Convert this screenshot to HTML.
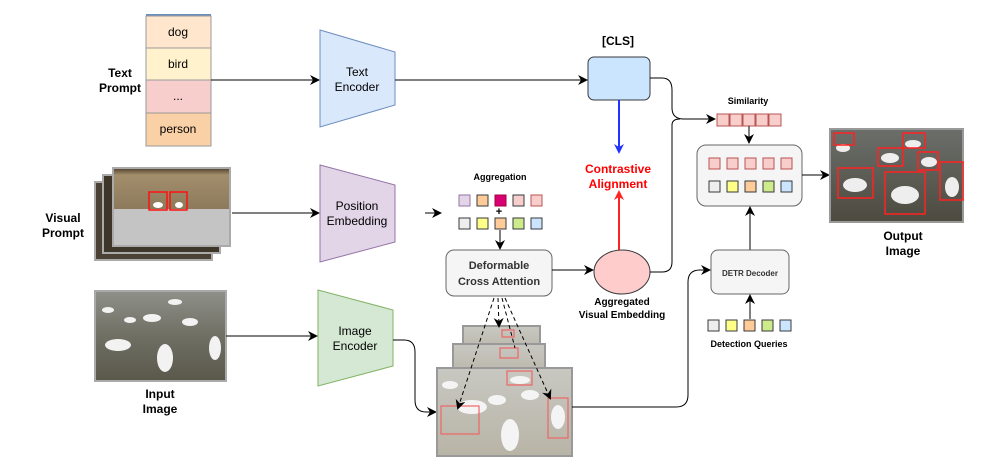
<!DOCTYPE html>
<html><head><meta charset="utf-8"><style>
html,body{margin:0;padding:0;background:#fff}
svg{display:block}
text{font-family:"Liberation Sans",sans-serif}
</style></head><body>
<svg width="996" height="476" viewBox="0 0 996 476" xmlns="http://www.w3.org/2000/svg">
<defs>
<marker id="ah" markerWidth="10" markerHeight="10" refX="8" refY="5" orient="auto" markerUnits="userSpaceOnUse"><path d="M0,0 L10,5 L0,10 L3,5 z" fill="#000"/></marker>
<marker id="ahb" markerWidth="10" markerHeight="10" refX="8" refY="5" orient="auto" markerUnits="userSpaceOnUse"><path d="M0,0 L10,5 L0,10 L3,5 z" fill="#2233ff"/></marker>
<marker id="ahr" markerWidth="10" markerHeight="10" refX="8" refY="5" orient="auto" markerUnits="userSpaceOnUse"><path d="M0,0 L10,5 L0,10 L3,5 z" fill="#ff2222"/></marker>
<linearGradient id="lake" x1="0" y1="0" x2="0" y2="1"><stop offset="0" stop-color="#8f9089"/><stop offset="0.5" stop-color="#6f6f64"/><stop offset="1" stop-color="#5a584b"/></linearGradient>
<linearGradient id="lakel" x1="0" y1="0" x2="0" y2="1"><stop offset="0" stop-color="#c8c8c2"/><stop offset="1" stop-color="#b8b4a6"/></linearGradient>
<linearGradient id="reed" x1="0" y1="0" x2="0" y2="1"><stop offset="0" stop-color="#5a4a34"/><stop offset="0.15" stop-color="#a38e6c"/><stop offset="1" stop-color="#8c7a5c"/></linearGradient>
<linearGradient id="out" x1="0" y1="0" x2="0" y2="1"><stop offset="0" stop-color="#6b6e6a"/><stop offset="1" stop-color="#4d4b40"/></linearGradient>
</defs>

<!-- Text prompt -->
<text x="120" y="77" font-size="12" font-weight="bold" text-anchor="middle">Text</text>
<text x="120" y="92" font-size="12" font-weight="bold" text-anchor="middle">Prompt</text>
<line x1="146" y1="15" x2="211" y2="15" stroke="#6c8ebf" stroke-width="2"/>
<rect x="146" y="16" width="65" height="32" fill="#ffe6cc" stroke="#999"/>
<rect x="146" y="48" width="65" height="32" fill="#fff2cc" stroke="#999"/>
<rect x="146" y="80" width="65" height="33" fill="#f8cecc" stroke="#999"/>
<rect x="146" y="113" width="65" height="33" fill="#fad0a6" stroke="#999"/>
<text x="178" y="36" font-size="12" text-anchor="middle">dog</text>
<text x="178" y="68" font-size="12" text-anchor="middle">bird</text>
<text x="178" y="100" font-size="12" text-anchor="middle">...</text>
<text x="178" y="133" font-size="12" text-anchor="middle">person</text>
<line x1="211" y1="80" x2="318" y2="80" stroke="#000" marker-end="url(#ah)"/>

<!-- Text encoder -->
<path d="M320,30 L395,52 L395,105 L320,127 Z" fill="#dae8fc" stroke="#6c8ebf"/>
<text x="357" y="76" font-size="12" text-anchor="middle">Text</text>
<text x="357" y="91" font-size="12" text-anchor="middle">Encoder</text>
<line x1="395" y1="80" x2="586" y2="80" stroke="#000" marker-end="url(#ah)"/>

<!-- CLS -->
<text x="618" y="45" font-size="12" font-weight="bold" text-anchor="middle">[CLS]</text>
<rect x="588" y="57" width="62" height="43" rx="6" fill="#cce5ff" stroke="#36393d"/>
<line x1="619" y1="100" x2="619" y2="152" stroke="#2233ff" stroke-width="2" marker-end="url(#ahb)"/>
<text x="618" y="173" font-size="12" font-weight="bold" fill="#ff0000" text-anchor="middle">Contrastive</text>
<text x="618" y="188" font-size="12" font-weight="bold" fill="#ff0000" text-anchor="middle">Alignment</text>
<line x1="619" y1="250" x2="619" y2="192" stroke="#ff2222" stroke-width="2" marker-end="url(#ahr)"/>
<ellipse cx="622" cy="272" rx="28" ry="22" fill="#ffcccc" stroke="#36393d"/>
<text x="622" y="305" font-size="10" font-weight="bold" text-anchor="middle">Aggregated</text>
<text x="622" y="318" font-size="10" font-weight="bold" text-anchor="middle">Visual Embedding</text>

<path d="M650,78 L662,78 Q672,78 672,90 L672,108 Q672,119 684,119 L714,119" fill="none" stroke="#000" marker-end="url(#ah)"/>
<path d="M650,272 L662,272 Q672,272 672,262 L672,125 Q672,119 680,119" fill="none" stroke="#000"/>

<!-- Similarity -->
<text x="748" y="104" font-size="9" font-weight="bold" text-anchor="middle">Similarity</text>
<g fill="#f8cecc" stroke="#b85450">
<rect x="717" y="114" width="12" height="12"/><rect x="730" y="114" width="12" height="12"/><rect x="743" y="114" width="12" height="12"/><rect x="756" y="114" width="12" height="12"/><rect x="769" y="114" width="12" height="12"/>
</g>
<line x1="749" y1="126" x2="749" y2="142" stroke="#000" marker-end="url(#ah)"/>
<rect x="697" y="145" width="105" height="61" rx="9" fill="#f5f5f5" stroke="#666"/>
<g fill="#f8cecc" stroke="#b85450">
<rect x="709" y="158" width="11" height="11"/><rect x="727" y="158" width="11" height="11"/><rect x="745" y="158" width="11" height="11"/><rect x="763" y="158" width="11" height="11"/><rect x="781" y="158" width="11" height="11"/>
</g>
<g stroke="#36393d">
<rect x="709" y="181" width="11" height="11" fill="#eeeeee"/><rect x="727" y="181" width="11" height="11" fill="#ffff88"/><rect x="745" y="181" width="11" height="11" fill="#ffcc99"/><rect x="763" y="181" width="11" height="11" fill="#cdeb8b"/><rect x="781" y="181" width="11" height="11" fill="#cce5ff"/>
</g>
<line x1="802" y1="175" x2="828" y2="175" stroke="#000" marker-end="url(#ah)"/>

<!-- Output image -->
<rect x="830" y="129" width="133" height="93" fill="url(#out)" stroke="#999" stroke-width="2"/>
<g fill="#eee">
<ellipse cx="843" cy="148" rx="7" ry="4"/><ellipse cx="890" cy="158" rx="9" ry="5"/><ellipse cx="913" cy="144" rx="8" ry="4"/><ellipse cx="929" cy="162" rx="8" ry="5"/><ellipse cx="855" cy="185" rx="12" ry="7"/><ellipse cx="905" cy="195" rx="14" ry="9"/><ellipse cx="952" cy="187" rx="7" ry="10"/>
</g>
<g fill="none" stroke="#ff2222" stroke-width="1.5">
<rect x="834" y="133" width="20" height="12"/><rect x="878" y="148" width="25" height="18"/><rect x="903" y="133" width="22" height="15"/><rect x="918" y="152" width="20" height="18"/><rect x="838" y="168" width="35" height="30"/><rect x="885" y="172" width="40" height="42"/><rect x="940" y="162" width="23" height="38"/>
</g>
<text x="903" y="240" font-size="12" font-weight="bold" text-anchor="middle">Output</text>
<text x="903" y="255" font-size="12" font-weight="bold" text-anchor="middle">Image</text>

<!-- DETR -->
<line x1="750" y1="250" x2="750" y2="208" stroke="#000" marker-end="url(#ah)"/>
<rect x="711" y="250" width="78" height="44" rx="7" fill="#f5f5f5" stroke="#666"/>
<text x="750" y="276" font-size="8" font-weight="bold" fill="#333" text-anchor="middle">DETR Decoder</text>
<line x1="750" y1="319" x2="750" y2="296" stroke="#000" marker-end="url(#ah)"/>
<g stroke="#36393d">
<rect x="708" y="320" width="11" height="11" fill="#eeeeee"/><rect x="726" y="320" width="11" height="11" fill="#ffff88"/><rect x="744" y="320" width="11" height="11" fill="#ffcc99"/><rect x="762" y="320" width="11" height="11" fill="#cdeb8b"/><rect x="780" y="320" width="11" height="11" fill="#cce5ff"/>
</g>
<text x="749" y="347" font-size="9" font-weight="bold" text-anchor="middle">Detection Queries</text>

<!-- Visual prompt -->
<text x="63" y="222" font-size="12" font-weight="bold" text-anchor="middle">Visual</text>
<text x="63" y="237" font-size="12" font-weight="bold" text-anchor="middle">Prompt</text>
<rect x="95" y="182" width="117" height="78" fill="#4a4033" stroke="#aaa" stroke-width="2"/>
<rect x="103" y="175" width="117" height="78" fill="#3e3628" stroke="#aaa" stroke-width="2"/>
<rect x="113" y="168" width="117" height="78" fill="#bfbfbf" stroke="#aaa" stroke-width="2"/>
<rect x="114" y="169" width="115" height="40" fill="url(#reed)"/>
<rect x="114" y="209" width="115" height="36" fill="#c4c4c4"/>
<ellipse cx="158" cy="205" rx="5" ry="3" fill="#fff"/><ellipse cx="179" cy="205" rx="4" ry="3" fill="#fff"/>
<rect x="149" y="192" width="18" height="18" fill="none" stroke="#ff1111" stroke-width="1.5"/>
<rect x="170" y="192" width="17" height="18" fill="none" stroke="#ff1111" stroke-width="1.5"/>
<line x1="232" y1="213" x2="318" y2="213" stroke="#000" marker-end="url(#ah)"/>

<!-- Position embedding -->
<path d="M320,165 L395,185 L395,242 L320,262 Z" fill="#e1d5e7" stroke="#9673a6"/>
<text x="357" y="210" font-size="12" text-anchor="middle">Position</text>
<text x="357" y="225" font-size="12" text-anchor="middle">Embedding</text>
<line x1="425" y1="213" x2="440" y2="213" stroke="#000" marker-end="url(#ah)"/>

<!-- Aggregation -->
<text x="500" y="180" font-size="9" font-weight="bold" text-anchor="middle">Aggregation</text>
<g>
<rect x="459" y="195" width="11" height="11" fill="#e1d5e7" stroke="#9673a6"/><rect x="477" y="195" width="11" height="11" fill="#ffcc99" stroke="#36393d"/><rect x="495" y="195" width="11" height="11" fill="#d80073" stroke="#a50040"/><rect x="513" y="195" width="11" height="11" fill="#f8cecc" stroke="#36393d"/><rect x="531" y="195" width="11" height="11" fill="#f8cecc" stroke="#b85450"/>
</g>
<text x="499" y="215" font-size="11" font-weight="bold" text-anchor="middle">+</text>
<g stroke="#36393d">
<rect x="459" y="218" width="11" height="11" fill="#eeeeee"/><rect x="477" y="218" width="11" height="11" fill="#ffff88"/><rect x="495" y="218" width="11" height="11" fill="#ffcc99"/><rect x="513" y="218" width="11" height="11" fill="#cdeb8b"/><rect x="531" y="218" width="11" height="11" fill="#cce5ff"/>
</g>
<line x1="500" y1="230" x2="500" y2="248" stroke="#000" marker-end="url(#ah)"/>
<rect x="446" y="250" width="106" height="46" rx="8" fill="#f5f5f5" stroke="#666"/>
<text x="499" y="269" font-size="11" font-weight="bold" fill="#333" text-anchor="middle">Deformable</text>
<text x="499" y="285" font-size="11" font-weight="bold" fill="#333" text-anchor="middle">Cross Attention</text>
<line x1="552" y1="270" x2="592" y2="270" stroke="#000" marker-end="url(#ah)"/>

<!-- Input image -->
<rect x="95" y="291" width="131" height="90" fill="url(#lake)" stroke="#aaa" stroke-width="2"/>
<g fill="#f2f2f2">
<ellipse cx="118" cy="345" rx="13" ry="6"/><ellipse cx="165" cy="358" rx="8" ry="14"/><ellipse cx="215" cy="348" rx="6" ry="12"/><ellipse cx="152" cy="318" rx="9" ry="4"/><ellipse cx="190" cy="322" rx="8" ry="4"/><ellipse cx="175" cy="302" rx="7" ry="3"/><ellipse cx="108" cy="310" rx="6" ry="3"/><ellipse cx="130" cy="320" rx="6" ry="3"/>
</g>
<text x="160" y="398" font-size="12" font-weight="bold" text-anchor="middle">Input</text>
<text x="160" y="413" font-size="12" font-weight="bold" text-anchor="middle">Image</text>
<line x1="226" y1="336" x2="316" y2="336" stroke="#000" marker-end="url(#ah)"/>

<!-- Image encoder -->
<path d="M318,290 L393,310 L393,366 L318,386 Z" fill="#d5e8d4" stroke="#82b366"/>
<text x="355" y="335" font-size="12" text-anchor="middle">Image</text>
<text x="355" y="350" font-size="12" text-anchor="middle">Encoder</text>
<path d="M393,340 L404,340 Q415,340 415,352 L415,400 Q415,412 426,412 L435,412" fill="none" stroke="#000" marker-end="url(#ah)"/>

<!-- Stacked feature images -->
<rect x="463" y="326" width="77" height="30" fill="url(#lakel)" stroke="#999" stroke-width="2"/>
<rect x="453" y="344" width="92" height="35" fill="url(#lakel)" stroke="#999" stroke-width="2"/>
<rect x="437" y="368" width="135" height="88" fill="url(#lakel)" stroke="#999" stroke-width="2"/>
<g fill="#f4f4f4">
<ellipse cx="472" cy="407" rx="15" ry="7"/><ellipse cx="510" cy="435" rx="9" ry="16"/><ellipse cx="558" cy="417" rx="7" ry="12"/><ellipse cx="497" cy="400" rx="9" ry="5"/><ellipse cx="530" cy="395" rx="9" ry="5"/><ellipse cx="450" cy="385" rx="8" ry="4"/><ellipse cx="520" cy="380" rx="10" ry="4"/>
</g>
<g fill="none" stroke="#ee6666" stroke-width="1.2">
<rect x="441" y="406" width="38" height="28"/><rect x="548" y="398" width="20" height="40"/><rect x="507" y="371" width="25" height="14"/><rect x="500" y="348" width="18" height="10"/><rect x="502" y="330" width="12" height="7"/>
</g>
<g stroke="#000" stroke-dasharray="4,3" fill="none">
<line x1="494" y1="298" x2="458" y2="408" marker-end="url(#ah)"/>
<line x1="498" y1="298" x2="499" y2="326" marker-end="url(#ah)"/>
<line x1="502" y1="298" x2="515" y2="348" />
<line x1="505" y1="298" x2="550" y2="398" marker-end="url(#ah)"/>
</g>
<path d="M572,407 L676,407 Q688,407 688,395 L688,282 Q688,270 700,270 L709,270" fill="none" stroke="#000" marker-end="url(#ah)"/>
</svg>
</body></html>
